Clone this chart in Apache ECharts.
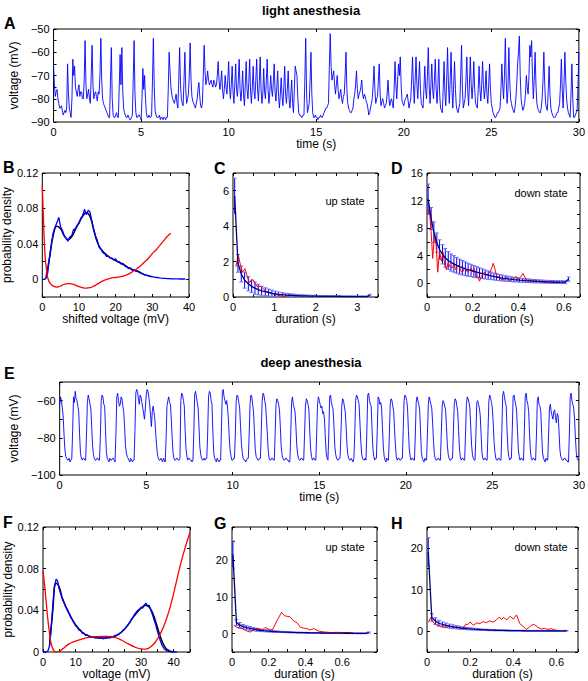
<!DOCTYPE html>
<html><head><meta charset="utf-8">
<script src="https://cdn.jsdelivr.net/npm/echarts@6/dist/echarts.min.js"></script>
<style>html,body{margin:0;padding:0;background:#fff}#c{width:588px;height:681px}</style>
</head><body><div id="c"></div>
<script>
// ---------------- DATA ----------------
// Panel A: light anesthesia voltage trace, sampled every 0.05 s (mV), one row per second
const dtA = 0.05;
const traceA = [
-66,-74,-79,-77,-76,-80,-82,-84,-84,-83,-85,-87,-86,-85,-86,-84,-65,-78,-84,-86,
-88,-80,-63,-70,-66,-75,-77,-79,-76,-74,-79,-77,-77,-80,-80,-72,-55,-74,-80,-78,
-76,-80,-82,-70,-57,-74,-80,-78,-77,-79,-81,-77,-78,-70,-54,-72,-80,-82,-83,-84,
-85,-86,-87,-88,-88,-72,-58,-80,-87,-88,-88,-87,-86,-88,-88,-75,-61,-74,-58,-76,
-84,-86,-87,-88,-88,-87,-88,-89,-89,-88,-87,-72,-55,-78,-86,-88,-88,-87,-87,-88,
-89,-80,-67,-76,-70,-80,-86,-88,-88,-87,-88,-88,-87,-72,-54,-75,-85,-87,-88,-88,
-88,-87,-89,-88,-88,-89,-88,-88,-89,-88,-88,-76,-60,-68,-75,-78,-80,-81,-82,-80,
-78,-82,-84,-72,-58,-74,-80,-82,-83,-72,-60,-76,-82,-80,-78,-70,-56,-72,-79,-81,
-82,-83,-84,-82,-80,-76,-73,-79,-83,-84,-82,-70,-57,-68,-74,-72,-68,-72,-74,-73,
-72,-74,-75,-72,-73,-75,-74,-70,-64,-72,-76,-73,-68,-76,-80,-76,-70,-75,-78,-72,
-64,-75,-80,-74,-66,-77,-82,-74,-65,-76,-79,-72,-63,-76,-81,-76,-68,-78,-83,-74,
-64,-76,-80,-73,-63,-77,-82,-75,-66,-77,-80,-72,-63,-76,-81,-73,-62,-76,-82,-78,
-67,-77,-80,-72,-63,-76,-82,-77,-70,-76,-79,-73,-65,-77,-81,-75,-68,-79,-84,-78,
-71,-79,-83,-75,-66,-78,-82,-76,-68,-80,-84,-78,-72,-82,-86,-76,-66,-68,-70,-80,
-86,-87,-87,-88,-88,-87,-87,-72,-54,-78,-86,-84,-82,-72,-60,-78,-86,-88,-88,-87,
-88,-88,-89,-88,-88,-87,-88,-88,-87,-86,-85,-84,-84,-83,-82,-66,-52,-66,-72,-70,
-68,-74,-78,-74,-70,-76,-80,-78,-76,-80,-82,-79,-78,-70,-60,-76,-82,-84,-85,-86,
-86,-85,-84,-80,-78,-74,-68,-76,-80,-78,-77,-75,-72,-78,-80,-78,-79,-81,-82,-84,
-87,-86,-84,-82,-80,-74,-66,-76,-82,-80,-79,-72,-65,-78,-83,-81,-80,-82,-84,-83,
-82,-78,-72,-79,-83,-81,-80,-82,-84,-76,-64,-74,-80,-72,-65,-70,-62,-74,-81,-82,
-83,-81,-80,-79,-78,-81,-84,-82,-80,-72,-62,-74,-82,-72,-62,-74,-80,-72,-64,-76,
-82,-83,-84,-76,-66,-76,-80,-70,-58,-74,-82,-74,-65,-76,-80,-72,-63,-76,-82,-74,
-63,-78,-84,-85,-86,-76,-64,-78,-83,-72,-58,-74,-82,-72,-60,-76,-84,-74,-64,-76,
-83,-85,-86,-84,-82,-70,-57,-76,-84,-82,-80,-72,-62,-76,-83,-74,-62,-74,-80,-74,
-64,-76,-82,-83,-84,-76,-66,-76,-81,-74,-64,-74,-80,-76,-68,-78,-82,-74,-65,-76,
-82,-84,-86,-87,-88,-88,-87,-86,-86,-85,-84,-76,-65,-74,-80,-70,-54,-72,-82,-76,
-58,-72,-80,-82,-84,-85,-86,-84,-80,-74,-65,-60,-53,-70,-80,-83,-85,-84,-82,-78,
-70,-75,-78,-70,-57,-62,-55,-70,-80,-72,-60,-74,-82,-84,-85,-86,-86,-84,-80,-72,
-60,-74,-82,-84,-85,-76,-66,-78,-84,-86,-87,-88,-88,-88,-87,-86,-86,-84,-82,-74,
-63,-76,-84,-74,-60,-72,-80,-84,-86,-87,-88,-78,-65,-80,-88,-88,-87,-86,-85,-74,
-60];

// Panel E: deep anesthesia voltage trace, sampled every 0.05 s (mV), one row per second
const dtE = 0.05;
const traceE = [
-62,-58,-60,-64,-68,-78,-86,-90,-91,-92,-92,-91,-93,-92,-91,-76,-58,-61,-55,-59,
-60,-63,-66,-78,-88,-91,-92,-91,-91,-92,-92,-78,-61,-57,-59,-62,-64,-74,-84,-89,
-91,-92,-92,-91,-91,-92,-92,-80,-60,-57,-58,-62,-63,-76,-88,-91,-92,-93,-91,-92,
-92,-91,-91,-92,-93,-78,-58,-56,-60,-63,-62,-58,-59,-63,-66,-74,-84,-88,-90,-91,
-92,-93,-91,-92,-93,-92,-92,-76,-56,-54,-55,-59,-62,-57,-58,-61,-64,-67,-70,-64,
-57,-54,-55,-58,-62,-68,-74,-66,-63,-66,-70,-78,-84,-89,-91,-92,-92,-91,-92,-93,
-91,-92,-93,-80,-63,-60,-58,-61,-62,-70,-80,-88,-91,-92,-92,-91,-91,-92,-92,-91,
-60,-56,-57,-60,-63,-76,-86,-90,-92,-91,-91,-92,-92,-93,-92,-78,-57,-55,-58,-61,
-64,-74,-85,-89,-91,-92,-92,-91,-92,-91,-91,-78,-58,-55,-56,-60,-62,-76,-88,-91,
-92,-93,-91,-92,-93,-92,-92,-74,-55,-54,-58,-60,-62,-60,-64,-70,-80,-87,-90,-92,
-92,-91,-91,-78,-60,-57,-58,-61,-64,-74,-83,-88,-91,-92,-92,-93,-92,-91,-91,-78,
-62,-57,-58,-62,-66,-76,-86,-90,-91,-92,-92,-91,-91,-76,-60,-56,-57,-60,-63,-70,
-78,-87,-91,-92,-92,-91,-91,-92,-92,-78,-62,-59,-60,-62,-65,-74,-85,-89,-91,-92,
-92,-91,-91,-92,-92,-93,-93,-78,-61,-58,-62,-64,-66,-74,-84,-89,-91,-92,-92,-91,
-91,-92,-92,-78,-63,-59,-60,-62,-65,-76,-86,-90,-92,-91,-91,-92,-92,-78,-62,-58,
-60,-62,-64,-63,-67,-66,-70,-80,-88,-91,-92,-78,-58,-57,-61,-63,-65,-74,-85,-89,
-91,-92,-92,-91,-91,-78,-63,-59,-60,-63,-66,-74,-84,-89,-91,-92,-92,-91,-92,-93,
-91,-78,-60,-57,-58,-60,-62,-72,-82,-89,-91,-92,-92,-91,-92,-76,-57,-56,-60,-62,
-63,-76,-86,-90,-92,-91,-91,-76,-58,-59,-62,-61,-64,-74,-85,-90,-92,-93,-91,-92,
-92,-78,-62,-59,-60,-63,-66,-76,-84,-90,-92,-91,-91,-92,-92,-91,-91,-76,-60,-57,
-58,-60,-64,-76,-86,-90,-92,-91,-91,-92,-92,-78,-61,-58,-60,-62,-65,-76,-88,-91,
-92,-93,-91,-92,-92,-78,-62,-58,-60,-62,-64,-72,-82,-89,-91,-92,-92,-91,-91,-92,
-92,-78,-63,-60,-61,-63,-65,-74,-84,-89,-91,-92,-92,-91,-91,-76,-62,-59,-60,-63,
-66,-76,-86,-90,-92,-91,-91,-92,-92,-78,-62,-58,-59,-61,-64,-74,-84,-89,-91,-92,
-92,-78,-61,-60,-62,-64,-68,-78,-88,-91,-92,-91,-91,-92,-92,-76,-60,-57,-59,-61,
-64,-72,-82,-88,-91,-92,-92,-91,-91,-92,-92,-76,-57,-55,-58,-61,-63,-76,-86,-90,
-92,-91,-91,-76,-58,-57,-60,-62,-65,-76,-86,-90,-92,-91,-91,-92,-92,-76,-58,-56,
-60,-62,-66,-78,-87,-91,-92,-91,-91,-92,-92,-78,-60,-58,-62,-63,-66,-78,-88,-91,
-92,-93,-91,-92,-92,-78,-64,-62,-66,-68,-70,-66,-65,-69,-72,-67,-68,-76,-86,-90,
-91,-92,-92,-91,-91,-92,-92,-93,-93,-78,-58,-56,-60,-62,-64,-70,-80,-88,-91,-92,
-92];

// Panel B: shifted voltage (mV) grid every 0.5 mV, empirical density
const histBx0 = 0, histBdx = 0.5;
const histB = [0,0,0.001,0.008,0.026,0.041,0.053,0.059,0.064,0.07,0.059,0.055,0.049,0.046,0.043,0.048,0.049,0.056,0.057,0.061,0.063,0.069,0.072,0.079,0.073,0.078,0.076,0.066,0.057,0.049,0.044,0.036,0.034,0.03,0.029,0.026,0.026,0.024,0.024,0.022,0.023,0.02,0.02,0.017,0.018,0.015,0.014,0.012,0.013,0.01,0.011,0.009,0.009,0.0075,0.007,0.006,0.005,0.0045,0.004,0.003,0.003,0.0025,0.002,0.002,0.0015,0.0012,0.001,0.001,0.0008,0.0008,0.0006,0.0005,0.0005,0.0004,0.0004,0.0003,0.0003,0.0003,0.0003];
const fitB = [[1,0.002],[2,0.025],[3,0.05],[4,0.06],[5,0.057],[6,0.049],[7,0.045],[8,0.048],[9,0.056],[10,0.064],[11,0.071],[12,0.075],[13,0.071],[14,0.056],[15,0.042],[16,0.034],[18,0.026],[20,0.021],[22,0.017],[24,0.012],[26,0.009],[28,0.005],[30,0.003]];
const potB = [[0,0.105],[0.3,0.07],[0.7,0.03],[1.2,0.009],[1.6,0],[2.2,-0.005],[3,-0.0078],[4,-0.0088],[5,-0.0076],[6,-0.0056],[7,-0.0048],[8,-0.0052],[9,-0.0066],[10,-0.0082],[11,-0.0095],[12,-0.01],[13,-0.0095],[14,-0.0078],[15,-0.0055],[16,-0.003],[17,-0.001],[18,0.0005],[19,0.0015],[20,0.002],[21,0.0028],[22,0.0036],[23,0.005],[24,0.007],[25,0.0095],[26,0.0125],[27,0.016],[28,0.02],[29,0.024],[30,0.029],[31,0.033],[32,0.038],[33,0.043],[34,0.048],[35,0.052]];

// Panel C: up-state durations (s)
const upLX = [0.04,0.12,0.2,0.28,0.37,0.45,0.53,0.61,0.69,0.78,0.86,0.94,1.02,1.1,1.19,1.27,1.35,1.43,1.51,1.6,1.68,1.76,1.84,1.92,2.0,2.09,2.17,2.25,2.33,2.42,2.5,2.58,2.66,2.74,2.83,2.91,2.99,3.07,3.15,3.24,3.3];
const upLMean = [5.7,1.9,1.3,0.95,0.75,0.6,0.5,0.42,0.35,0.3,0.25,0.21,0.18,0.15,0.13,0.11,0.1,0.09,0.08,0.07,0.065,0.06,0.055,0.05,0.045,0.04,0.04,0.035,0.035,0.03,0.03,0.03,0.025,0.025,0.025,0.02,0.02,0.02,0.02,0.02,0.1];
const upLErr = [1.0,0.5,0.45,0.45,0.4,0.35,0.35,0.3,0.25,0.22,0.2,0.18,0.15,0.13,0.12,0.1,0.09,0.08,0.07,0.06,0.06,0.05,0.05,0.05,0.05,0.04,0.04,0.04,0.04,0.04,0.04,0.04,0.04,0.04,0.04,0.04,0.04,0.04,0.04,0.04,0.05];
const upLData = [[0.07,1.7],[0.125,2.4],[0.18,1.8],[0.23,1.4],[0.29,1.6],[0.35,1.1],[0.4,0.8],[0.46,1.0],[0.5,0.9],[0.58,0.6],[0.67,0.6],[0.79,0.33],[0.92,0.23],[1.08,0.1],[1.25,0.02],[1.3,0.0]];

// Panel D: down-state durations (s)
const dnLX = [0.005,0.018,0.03,0.043,0.055,0.068,0.08,0.093,0.105,0.118,0.13,0.143,0.155,0.168,0.18,0.193,0.205,0.218,0.23,0.243,0.255,0.268,0.28,0.293,0.305,0.318,0.33,0.343,0.355,0.368,0.38,0.393,0.405,0.418,0.43,0.443,0.455,0.468,0.48,0.493,0.505,0.518,0.53,0.543,0.555,0.568,0.58,0.593,0.605,0.62];
const dnLMean = [12.2,9.4,7.4,5.9,4.9,4.2,3.7,3.3,3.0,2.8,2.6,2.4,2.25,2.1,1.95,1.85,1.72,1.6,1.5,1.38,1.27,1.17,1.07,0.98,0.9,0.82,0.75,0.69,0.63,0.58,0.53,0.49,0.45,0.42,0.38,0.35,0.33,0.3,0.28,0.26,0.24,0.22,0.21,0.19,0.18,0.17,0.16,0.15,0.14,0.6];
const dnLErr = [2.2,1.6,1.5,1.4,1.4,1.4,1.35,1.3,1.25,1.2,1.15,1.1,1.05,1.0,0.95,0.9,0.85,0.8,0.75,0.7,0.65,0.6,0.55,0.5,0.48,0.45,0.42,0.4,0.38,0.35,0.33,0.3,0.3,0.28,0.27,0.26,0.25,0.24,0.23,0.22,0.21,0.2,0.2,0.2,0.2,0.2,0.2,0.2,0.2,0.3];
const dnLData = [[0.003,10],[0.01,10.8],[0.018,7.5],[0.025,3.6],[0.033,7.2],[0.04,5.5],[0.047,1.6],[0.055,4.6],[0.063,3.2],[0.07,4.5],[0.078,2.6],[0.085,2.0],[0.093,3.0],[0.1,2.4],[0.11,2.2],[0.118,2.8],[0.125,2.0],[0.133,2.4],[0.14,2.6],[0.148,1.8],[0.155,1.5],[0.163,2.2],[0.17,2.0],[0.178,1.6],[0.185,1.9],[0.193,2.2],[0.2,1.7],[0.208,2.1],[0.215,0.8],[0.223,1.0],[0.23,0.3],[0.238,1.0],[0.245,1.4],[0.253,1.6],[0.26,1.2],[0.268,1.3],[0.275,1.5],[0.283,2.2],[0.29,2.9],[0.298,2.0],[0.305,1.0],[0.313,0.9],[0.32,0.7],[0.33,0.5],[0.34,0.6],[0.35,0.8],[0.36,0.4],[0.37,0.5],[0.38,0.7],[0.39,1.0],[0.4,0.6],[0.41,0.9],[0.42,1.4],[0.43,0.8],[0.44,0.3],[0.45,0.4],[0.46,0.2],[0.47,0.5],[0.48,0.3],[0.5,0.2],[0.52,0.1],[0.54,0.2],[0.56,0.1],[0.58,0.1]];

// Panel F: voltage (mV) grid every 0.5 mV, empirical density
const histFx0 = 0, histFdx = 0.5;
const histF = [0,0,0,0.001,0.006,0.022,0.045,0.062,0.07,0.068,
0.06,0.055,0.05,0.047,0.043,0.04,0.037,0.033,0.031,0.028,
0.025,0.024,0.021,0.021,0.018,0.018,0.016,0.0165,0.015,0.0145,
0.014,0.0145,0.0135,0.014,0.0135,0.013,0.0135,0.0125,0.0135,0.013,
0.014,0.0135,0.015,0.0145,0.016,0.016,0.017,0.018,0.019,0.021,
0.022,0.024,0.026,0.028,0.031,0.033,0.036,0.038,0.04,0.041,
0.043,0.042,0.045,0.047,0.044,0.045,0.04,0.036,0.031,0.026,
0.02,0.015,0.01,0.006,0.0035,0.002,0.001,0.0005,0.0002,0.0001,
0,0,0];
const fitF = [[2,0.006],[3,0.04],[4,0.066],[5,0.062],[6,0.051],[8,0.037],[10,0.026],[12,0.019],[14,0.0155],[16,0.014],[18,0.0135],[20,0.0138],[22,0.015],[24,0.019],[26,0.026],[28,0.035],[30,0.042],[31.5,0.045],[33,0.041],[34.5,0.029],[36,0.014],[37.5,0.004],[39,0.0008],[40,0]];
const potF = [[0,0.078],[0.5,0.064],[1,0.047],[1.5,0.031],[2,0.018],[2.5,0.008],[3,0.003],[3.5,0.0008],[4,0],[5,0.0007],[6,0.003],[8,0.0078],[10,0.0105],[12,0.0125],[14,0.014],[16,0.0147],[18,0.015],[20,0.015],[22,0.014],[24,0.0115],[26,0.008],[28,0.005],[30,0.003],[31.5,0.0028],[33,0.005],[34.5,0.01],[36,0.018],[37.5,0.029],[39,0.044],[40.5,0.063],[42,0.083],[43.5,0.1],[45,0.115]];

// Panel G: up-state durations (s)
const upDX = [0.005,0.024,0.042,0.061,0.079,0.098,0.116,0.135,0.153,0.172,0.19,0.209,0.227,0.246,0.264,0.283,0.301,0.32,0.338,0.357,0.375,0.394,0.412,0.431,0.449,0.468,0.486,0.505,0.523,0.542,0.56,0.579,0.597,0.616,0.634,0.653,0.671,0.69,0.708,0.727,0.745];
const upDMean = [21.5,3.0,2.3,1.9,1.6,1.4,1.2,1.05,0.92,0.82,0.73,0.65,0.58,0.52,0.47,0.43,0.39,0.35,0.32,0.29,0.27,0.25,0.23,0.21,0.2,0.18,0.17,0.16,0.15,0.14,0.13,0.12,0.11,0.1,0.1,0.09,0.09,0.08,0.08,0.07,0.3];
const upDErr = [3.7,0.8,0.7,0.6,0.55,0.5,0.45,0.4,0.35,0.3,0.28,0.25,0.22,0.2,0.18,0.16,0.15,0.14,0.13,0.12,0.11,0.1,0.1,0.1,0.1,0.1,0.1,0.1,0.1,0.1,0.1,0.1,0.1,0.1,0.1,0.1,0.1,0.1,0.1,0.1,0.15];
const upDData = [[0.01,2.3],[0.027,1.7],[0.04,1.5],[0.055,1.4],[0.07,1.0],[0.085,0.6],[0.1,0.45],[0.12,1.2],[0.136,1.4],[0.15,1.2],[0.164,0.9],[0.18,1.7],[0.19,1.4],[0.2,1.2],[0.21,1.1],[0.22,1.0],[0.245,3.5],[0.27,5.8],[0.285,4.9],[0.3,4.7],[0.315,4.6],[0.336,3.5],[0.355,2.9],[0.373,1.7],[0.39,1.5],[0.405,1.4],[0.427,1.0],[0.445,1.4],[0.47,0.7],[0.5,0.45],[0.536,0.3],[0.57,0.35],[0.61,0.3],[0.645,0.3],[0.66,0.2]];

// Panel H: down-state durations (s)
const dnDX = [0.006,0.022,0.039,0.055,0.072,0.088,0.105,0.121,0.138,0.154,0.171,0.187,0.204,0.22,0.237,0.253,0.27,0.286,0.303,0.319,0.336,0.352,0.369,0.385,0.402,0.418,0.435,0.451,0.468,0.484,0.501,0.517,0.534,0.55,0.567,0.583,0.6,0.616,0.633,0.646];
const dnDMean = [19,3.3,2.4,1.9,1.6,1.4,1.2,1.05,0.92,0.8,0.7,0.62,0.54,0.47,0.41,0.36,0.32,0.28,0.25,0.22,0.2,0.18,0.16,0.14,0.13,0.12,0.11,0.1,0.09,0.08,0.08,0.07,0.07,0.06,0.06,0.05,0.05,0.05,0.05,0.1];
const dnDErr = [3.5,0.9,0.8,0.7,0.6,0.55,0.5,0.45,0.4,0.35,0.3,0.28,0.25,0.22,0.2,0.18,0.16,0.15,0.14,0.13,0.12,0.11,0.1,0.1,0.1,0.1,0.1,0.1,0.1,0.1,0.1,0.1,0.1,0.1,0.1,0.1,0.1,0.1,0.1,0.1];
const dnDData = [[0.006,2.1],[0.018,3.3],[0.03,2.0],[0.045,1.5],[0.06,1.3],[0.075,1.0],[0.09,0.9],[0.105,1.2],[0.12,0.9],[0.135,1.0],[0.15,0.8],[0.165,0.6],[0.18,1.7],[0.19,1.6],[0.2,2.2],[0.215,1.4],[0.23,2.0],[0.245,1.8],[0.26,2.3],[0.275,2.0],[0.29,2.5],[0.305,2.2],[0.32,2.6],[0.335,3.4],[0.345,2.8],[0.355,3.3],[0.37,2.7],[0.385,3.6],[0.4,2.9],[0.415,3.9],[0.43,1.8],[0.445,1.2],[0.46,0.4],[0.475,1.0],[0.49,1.6],[0.5,1.5],[0.515,0.9],[0.53,0.5],[0.545,0.7],[0.56,0.4],[0.575,0.6],[0.59,0.3],[0.6,0.3]];

// ---------------- LAYOUT ----------------
const FONT = '"Liberation Sans", Arial, Helvetica, sans-serif';
const BLUE = '#0000ff', RED = '#ff0000', DARK = '#000080';
const panels = [
  {key:'A', g:{left:42, top:29, width:537, height:93},
   x:{min:0,max:30,interval:5,lab:5,dec:0,name:'time (s)'},
   y:{min:-90,max:-50,interval:5,lab:10,dec:0,name:'voltage (mV)'}},
  {key:'B', g:{left:42, top:173, width:147, height:124},
   x:{min:0,max:40,interval:5,lab:10,dec:0,name:'shifted voltage (mV)'},
   y:{min:-0.02,max:0.12,interval:0.02,lab:0.04,dec:2,name:'probability density'}},
  {key:'C', g:{left:233, top:173, width:145, height:124},
   x:{min:0,max:3.5,interval:0.5,lab:1,dec:0,name:'duration (s)'},
   y:{min:0,max:7,interval:1,lab:2,dec:0,name:''}},
  {key:'D', g:{left:427, top:173, width:153, height:124},
   x:{min:0,max:0.67,interval:0.1,lab:0.2,dec:1,name:'duration (s)'},
   y:{min:-2,max:16,interval:2,lab:4,dec:0,name:''}},
  {key:'E', g:{left:42, top:382, width:537, height:93},
   x:{min:0,max:30,interval:5,lab:5,dec:0,name:'time (s)'},
   y:{min:-100,max:-50,interval:10,lab:20,dec:0,name:'voltage (mV)'}},
  {key:'F', g:{left:43, top:527, width:147, height:125},
   x:{min:0,max:45,interval:5,lab:10,dec:0,name:'voltage (mV)'},
   y:{min:0,max:0.12,interval:0.02,lab:0.04,dec:2,name:'probability density'}},
  {key:'G', g:{left:232, top:527, width:145, height:125},
   x:{min:0,max:0.79,interval:0.1,lab:0.2,dec:1,name:'duration (s)'},
   y:{min:-5,max:29,interval:5,lab:10,dec:0,name:''}},
  {key:'H', g:{left:427, top:527, width:151, height:125},
   x:{min:0,max:0.7,interval:0.1,lab:0.2,dec:1,name:'duration (s)'},
   y:{min:-5,max:25,interval:5,lab:10,dec:0,name:''}}
];

function labFmt(step, dec){
  return function(v){
    const k = v/step;
    if (Math.abs(k-Math.round(k))>1e-6) return '';
    if (Math.abs(v)<1e-9) return '0';
    return (Math.round(v*1e6)/1e6).toFixed(dec).replace('-','\u2212');
  };
}

const grid=[], xAxis=[], yAxis=[];
panels.forEach((p,i)=>{
  grid.push(Object.assign({show:true, borderColor:'#000', borderWidth:1, backgroundColor:'#fff'}, p.g));
  const tick = {show:true, inside:true, length:3, lineStyle:{color:'#000', width:1}};
  const base = (c)=>({gridIndex:i, type:'value', min:c.min, max:c.max, interval:c.interval,
     axisLine:{show:false, onZero:false}, splitLine:{show:false}, axisTick:tick});
  xAxis.push(Object.assign(base(p.x), {position:'bottom',
     axisLabel:{formatter:labFmt(p.x.lab,p.x.dec), fontSize:11, color:'#000', fontFamily:FONT, margin:4},
     name:p.x.name, nameLocation:'middle', nameGap:15,
     nameTextStyle:{fontSize:12, color:'#000', fontFamily:FONT}}));
  xAxis.push(Object.assign(base(p.x), {position:'top', axisLabel:{show:false}}));
  yAxis.push(Object.assign(base(p.y), {position:'left',
     axisLabel:{formatter:labFmt(p.y.lab,p.y.dec), fontSize:11, color:'#000', fontFamily:FONT, margin:4},
     name:p.y.name, nameLocation:'middle', nameGap:26,
     nameTextStyle:{fontSize:12, color:'#000', fontFamily:FONT}}));
  yAxis.push(Object.assign(base(p.y), {position:'right', axisLabel:{show:false}}));
});

function idx(i){ return {xAxisIndex:2*i, yAxisIndex:2*i}; }
function line(i, data, color, width, extra){
  return Object.assign({type:'line', data, showSymbol:false, symbol:'none', silent:true,
    lineStyle:{color, width}, itemStyle:{color}, clip:true, animation:false}, idx(i), extra||{});
}
function errBars(i, xs, means, errs, color){
  return Object.assign({type:'custom', silent:true, animation:false, clip:true,
    data: xs.map((x,k)=>[x, means[k]-errs[k], means[k]+errs[k]]),
    renderItem:function(params, api){
      const x=api.value(0), lo=api.value(1), hi=api.value(2);
      const a=api.coord([x,lo]), b=api.coord([x,hi]);
      const cw=2, st={stroke:color, lineWidth:1};
      return {type:'group', children:[
        {type:'line', shape:{x1:a[0],y1:a[1],x2:b[0],y2:b[1]}, style:st},
        {type:'line', shape:{x1:a[0]-cw,y1:a[1],x2:a[0]+cw,y2:a[1]}, style:{stroke:'#6f6fff', lineWidth:1}},
        {type:'line', shape:{x1:b[0]-cw,y1:b[1],x2:b[0]+cw,y2:b[1]}, style:{stroke:'#6f6fff', lineWidth:1}}
      ]};
    }}, idx(i));
}
const zip = (xs, ys)=>xs.map((x,k)=>[x, ys[k]]);

const series = [
  line(0, traceA.map((v,k)=>[k*dtA, v]), BLUE, 0.9),
  line(1, fitB, '#000', 1.5, {smooth:true}),
  line(1, histB.map((v,k)=>[histBx0+k*histBdx, v]), BLUE, 1.3),
  line(1, potB, RED, 1.3, {smooth:true}),
  line(2, upLData, RED, 1),
  errBars(2, upLX, upLMean, upLErr, BLUE),
  line(2, zip(upLX, upLMean), DARK, 1.3),
  line(3, dnLData, RED, 1),
  errBars(3, dnLX, dnLMean, dnLErr, BLUE),
  line(3, zip(dnLX, dnLMean), DARK, 1.3),
  line(4, traceE.map((v,k)=>[k*dtE, v]), BLUE, 0.9),
  line(5, fitF, '#000', 1.5, {smooth:true}),
  line(5, histF.map((v,k)=>[histFx0+k*histFdx, v]), BLUE, 1.3),
  line(5, potF, RED, 1.3, {smooth:true}),
  line(6, upDData, RED, 1),
  errBars(6, upDX, upDMean, upDErr, BLUE),
  line(6, zip(upDX, upDMean), DARK, 1.3),
  line(7, dnDData, RED, 1),
  errBars(7, dnDX, dnDMean, dnDErr, BLUE),
  line(7, zip(dnDX, dnDMean), DARK, 1.3)
];

function txt(x, y, text, size, bold, align){
  return {type:'text', x, y, silent:true, z:100,
    style:{text, fill:'#000', font:(bold?'bold ':'')+size+'px '+FONT,
      align:align||'left', verticalAlign:'middle', textAlign:align||'left', textVerticalAlign:'middle'}};
}
const graphic = [
  txt(311, 10, 'light anesthesia', 13, true, 'center'),
  txt(311, 362, 'deep anesthesia', 13, true, 'center'),
  txt(4, 23, 'A', 16, true), txt(3, 167, 'B', 16, true), txt(214, 168, 'C', 16, true), txt(391, 168, 'D', 16, true),
  txt(4, 373, 'E', 16, true), txt(3, 522, 'F', 16, true), txt(214, 523, 'G', 16, true), txt(391, 523, 'H', 16, true),
  txt(345, 201, 'up state', 11, false, 'center'),
  txt(541, 193, 'down state', 11, false, 'center'),
  txt(345, 547, 'up state', 11, false, 'center'),
  txt(541, 547, 'down state', 11, false, 'center')
];

const chart = echarts.init(document.getElementById('c'), null, {renderer:'svg', width:588, height:681});
chart.setOption({animation:false, backgroundColor:'#fff', grid, xAxis, yAxis, series, graphic});
</script></body></html>
